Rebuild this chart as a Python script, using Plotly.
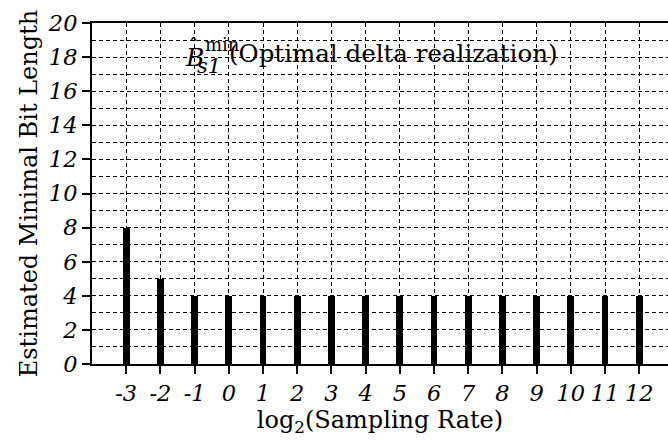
import plotly.graph_objects as go

# log2 of the sampling rate and the estimated minimal bit length at each
log2_rate = [-3, -2, -1, 0, 1, 2, 3, 4, 5, 6, 7, 8, 9, 10, 11, 12]
bit_length = [8, 5, 4, 4, 4, 4, 4, 4, 4, 4, 4, 4, 4, 4, 4, 4]
x_tick_text = ["-3", "-2", "-1", "0", "1", "2", "3", "4", "5", "6", "7", "8", "9", "10", "11", "12"]
y_ticks = [0, 2, 4, 6, 8, 10, 12, 14, 16, 18, 20]

SERIF = "DejaVu Serif"
DASH = "4px,3px"

fig = go.Figure()
fig.add_trace(go.Bar(
    x=log2_rate, y=bit_length, width=0.2,
    marker=dict(color="black", line=dict(width=0)),
    showlegend=False,
))

fig.update_layout(
    template="none",
    width=668, height=443,
    margin=dict(l=92, r=0, t=23, b=79),
    plot_bgcolor="white", paper_bgcolor="white",
    font=dict(family=SERIF, color="black"),
    xaxis=dict(
        range=[-4, 12.84],
        tickvals=log2_rate, ticktext=x_tick_text,
        tickfont=dict(family=SERIF, size=22.5, style="italic"),
        ticks="outside", ticklen=8, tickwidth=1.5, tickcolor="black",
        showline=True, linecolor="black", linewidth=2, mirror=True,
        showgrid=True, gridcolor="black", gridwidth=1, griddash=DASH,
        zeroline=False,
        title=dict(text="log<sub>2</sub>(Sampling Rate)",
                   font=dict(family=SERIF, size=24), standoff=2),
    ),
    yaxis=dict(
        range=[0, 20],
        tickvals=y_ticks,
        tickfont=dict(family=SERIF, size=22.5, style="italic"),
        ticks="outside", ticklen=8, tickwidth=1.5, tickcolor="black",
        showline=True, linecolor="black", linewidth=2,
        showgrid=True, gridcolor="black", gridwidth=1, griddash=DASH,
        minor=dict(dtick=1, showgrid=True, gridcolor="black", gridwidth=1,
                   griddash=DASH),
        zeroline=False,
        title=dict(text="Estimated Minimal Bit Length",
                   font=dict(family=SERIF, size=24), standoff=3),
    ),
    bargap=0,
)

# Label: B-hat with stacked subscript s1 and superscript min
label_parts = [
    dict(x=-1.33, y=17.95, text="<i>B</i>", size=25, anchor="left"),
    dict(x=-1.02, y=18.55, text="\u02c6", size=22, anchor="center"),
    dict(x=-0.76, y=18.75, text="min", size=18, anchor="left"),
    dict(x=-1.0, y=17.45, text="<i>s1</i>", size=21, anchor="left"),
    dict(x=-0.04, y=18.2, text="(Optimal delta realization)", size=24.5, anchor="left"),
]
for part in label_parts:
    fig.add_annotation(
        x=part["x"], y=part["y"], xref="x", yref="y",
        text=part["text"], showarrow=False,
        xanchor=part["anchor"], yanchor="middle",
        font=dict(family=SERIF, size=part["size"], color="black"),
    )

fig.write_html("out.html")
